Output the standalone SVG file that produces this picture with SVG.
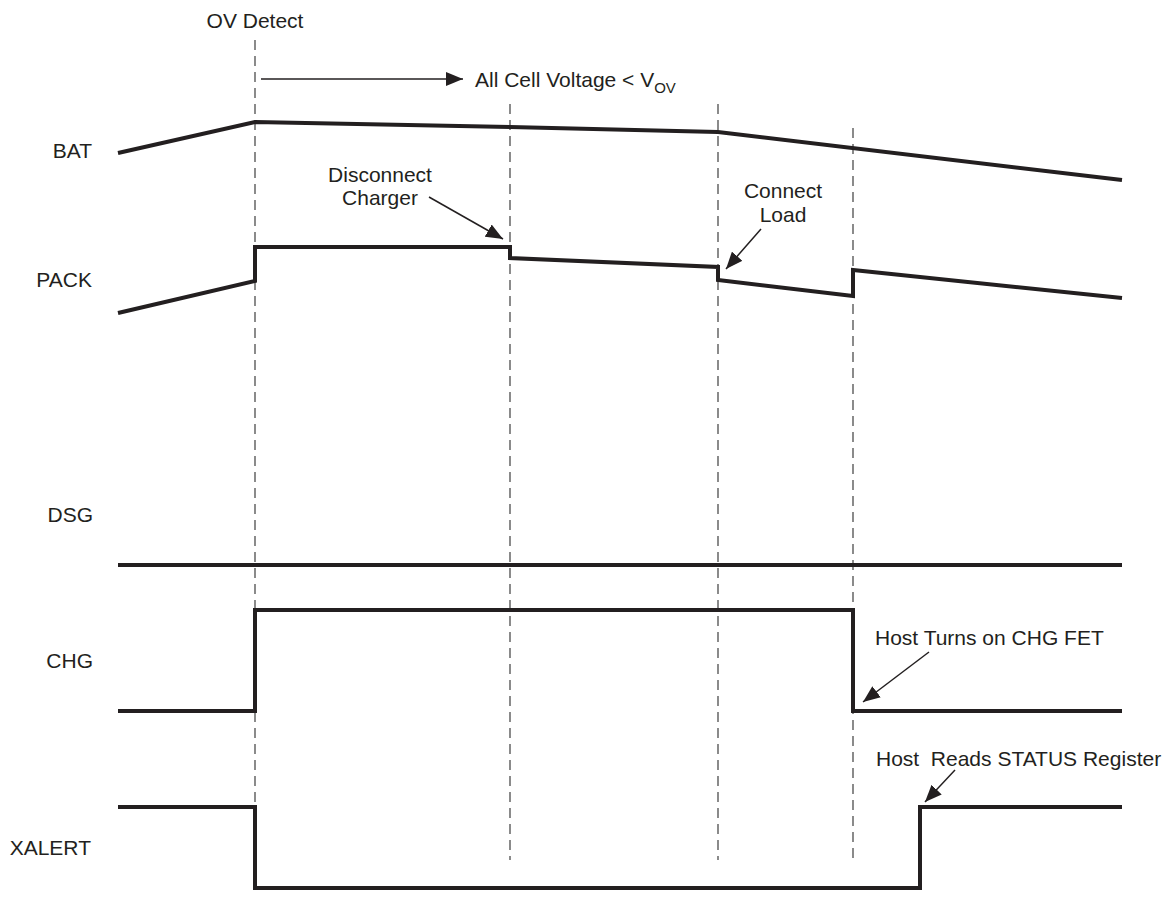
<svg xmlns="http://www.w3.org/2000/svg" width="1168" height="915" viewBox="0 0 1168 915">
<defs>
<style>
text{font-family:"Liberation Sans",Arial,sans-serif;font-size:21px;fill:#231f20}
.sig{fill:none;stroke:#231f20;stroke-width:4;stroke-linejoin:miter}
.dash{fill:none;stroke:#4d4d4d;stroke-width:1.3;stroke-dasharray:10 6}
.ann{fill:none;stroke:#231f20;stroke-width:1.5}
</style>
<marker id="ahb" viewBox="0 0 17 14" refX="17" refY="7" markerWidth="17" markerHeight="14" markerUnits="userSpaceOnUse" orient="auto">
<path d="M0,0 L17,7 L0,14 z" fill="#231f20"/>
</marker>
</defs>
<rect width="1168" height="915" fill="#fff"/>
<g id="labels">
<text x="92" y="158" text-anchor="end">BAT</text>
<text x="92" y="287" text-anchor="end">PACK</text>
<text x="93" y="522" text-anchor="end">DSG</text>
<text x="93" y="668" text-anchor="end">CHG</text>
<text x="91" y="855" text-anchor="end">XALERT</text>
</g>
<g id="markers">
<line class="dash" x1="255" y1="40" x2="255" y2="860"/>
<line class="dash" x1="510" y1="104" x2="510" y2="860"/>
<line class="dash" x1="718" y1="104" x2="718" y2="860"/>
<line class="dash" x1="853" y1="128" x2="853" y2="860"/>
</g>
<g id="signals">
<polyline id="bat" class="sig" points="118,153 255,122 510,127 718,132 1122,180"/>
<polyline id="pack" class="sig" points="118,313 255,281 255,247 510,247 510,258 718,267 718,280 853,296 853,270 1122,298"/>
<polyline id="dsg" class="sig" points="118,565 1122,565"/>
<polyline id="chg" class="sig" points="118,711 255,711 255,610 853,610 853,711 1122,711"/>
<polyline id="xalert" class="sig" points="118,807 255,807 255,888 920,888 920,807 1122,807"/>
</g>
<g id="annotations">
<g id="ov-detect"><text x="255" y="28" text-anchor="middle">OV Detect</text></g>
<g id="all-cell">
<line class="ann" x1="261" y1="79" x2="463" y2="79" marker-end="url(#ahb)"/>
<text x="475" y="87">All Cell Voltage &lt; V<tspan font-size="15" dy="6">OV</tspan></text>
</g>
<g id="disconnect">
<text x="380" y="182" text-anchor="middle">Disconnect</text>
<text x="380" y="205" text-anchor="middle">Charger</text>
<line class="ann" x1="429" y1="197" x2="503" y2="239" marker-end="url(#ahb)"/>
</g>
<g id="connect">
<text x="783" y="198" text-anchor="middle">Connect</text>
<text x="783" y="222" text-anchor="middle">Load</text>
<line class="ann" x1="761" y1="229" x2="726" y2="269" marker-end="url(#ahb)"/>
</g>
<g id="host-chg">
<text x="875" y="645">Host Turns on CHG FET</text>
<line class="ann" x1="929" y1="652" x2="863" y2="702" marker-end="url(#ahb)"/>
</g>
<g id="host-status">
<text x="876" y="766" xml:space="preserve">Host  Reads STATUS Register</text>
<line class="ann" x1="955" y1="770" x2="925" y2="802" marker-end="url(#ahb)"/>
</g>
</g>
</svg>
